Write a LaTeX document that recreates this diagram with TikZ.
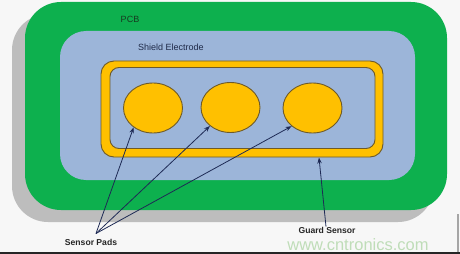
\documentclass[tikz,border=0pt]{standalone}
\usepackage{fontspec}
\setmainfont{Liberation Sans}
\usetikzlibrary{shapes.geometric,arrows.meta}
\definecolor{bgc}{HTML}{F7F7F7}
\definecolor{pcbgreen}{HTML}{0DB04E}
\definecolor{shadowgray}{HTML}{BDBDBD}
\definecolor{shieldblue}{HTML}{9CB5D9}
\definecolor{padyellow}{HTML}{FFC000}
\definecolor{padedge}{HTML}{6E5A28}
\definecolor{arrowc}{HTML}{1E2A55}
\definecolor{labelc}{HTML}{262626}
\definecolor{shieldtxt}{HTML}{1F2A48}
\definecolor{pcbtxt}{HTML}{173A20}
\definecolor{wmark}{HTML}{BFDDB8}
\tikzset{
  padnode/.style={ellipse, fill=padyellow, draw=padedge, line width=0.9pt,
    minimum width=59pt, minimum height=50pt, inner sep=0pt},
  lbl/.style={font=\fontsize{9}{10}\selectfont, inner sep=0pt},
  boldlbl/.style={font=\fontsize{8.6}{10}\selectfont\bfseries, text=labelc, inner sep=0pt},
  ptr/.style={draw=arrowc, line width=0.8pt, -{Stealth[length=6pt,width=4.5pt]}}
}
\begin{document}
\begin{tikzpicture}[x=1pt,y=-1pt]
\useasboundingbox (0,0) rectangle (460,254);
\fill[bgc] (0,0) rectangle (460,254);
% shadow
\fill[shadowgray, rounded corners=36pt] (12,14) rectangle (434,222);
% PCB
\fill[pcbgreen, rounded corners=36pt] (25,2) rectangle (447,210);
% shield electrode
\fill[shieldblue, rounded corners=26pt] (60,31) rectangle (415,180);
% guard ring
\node[draw=padedge, fill=padyellow, line width=0.9pt, rounded corners=13pt,
  minimum width=282pt, minimum height=96pt, inner sep=0pt] (guard) at (242,109) {};
\node[draw=padedge, fill=shieldblue, line width=0.9pt, rounded corners=9pt,
  minimum width=265pt, minimum height=81pt, inner sep=0pt] (guardin) at (242.5,108) {};
% pads
\node[padnode] (p1) at (153,108) {};
\node[padnode] (p2) at (230.5,107.5) {};
\node[padnode] (p3) at (312.5,108) {};
% labels
\node[lbl, text=pcbtxt] (pcb) at (130,19) {PCB};
\node[lbl, text=shieldtxt] (shield) at (171,47) {Shield Electrode};
% watermark
\node[font=\fontsize{16.5}{18}\selectfont, text=wmark, inner sep=0pt] (wm) at (358,244.5) {www.cntronics.com};
\node[boldlbl] (sp) at (91,242) {Sensor Pads};
\node[boldlbl] (gl) at (327,230.5) {Guard Sensor};
% connectors
\coordinate (spc) at (96,233.5);
\coordinate (gs) at (319,157.5);
\draw[ptr] (spc) -- (p1.225);
\draw[ptr] (spc) -- (p2.222);
\draw[ptr] (spc) -- (p3.221);
\draw[ptr] (gl.north) ++(-1,-0.5) coordinate (gst) (gst) -- (gs);
% screenshot edges
\fill[black!85] (0,252.2) rectangle (460,254);
\fill[gray!70] (457,214) rectangle (458.5,252.2);
\end{tikzpicture}
\end{document}
